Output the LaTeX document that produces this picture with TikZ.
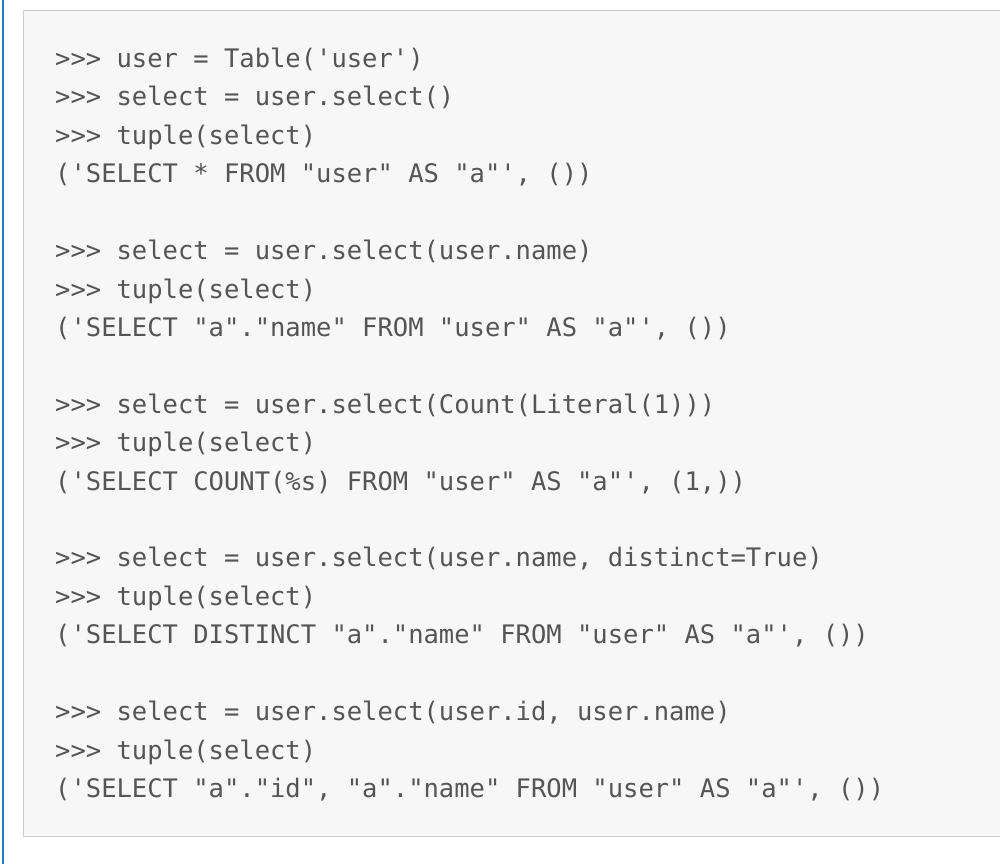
\documentclass[tikz,border=0pt]{standalone}
\usepackage{fontspec}
\setmonofont{DejaVu Sans Mono}
\definecolor{codegray}{HTML}{F7F7F7}
\definecolor{codeborder}{HTML}{CCCCCC}
\definecolor{codetext}{HTML}{555555}
\definecolor{sidebar}{HTML}{2B7BC0}
\begin{document}
\begin{tikzpicture}[x=1pt,y=-1pt,
  codeline/.style={anchor=base west,inner sep=0pt,text=codetext,font=\fontsize{25.5}{30}\ttfamily}]
\useasboundingbox (0,0) rectangle (1000,864);
\fill[white] (0,0) rectangle (1000,864);
\fill[sidebar] (1.5,0) rectangle (4,864);
\draw[codeborder,fill=codegray,line width=1.5] (23.5,10.5) rectangle (1010,836.5);
\foreach \i/\t in {0/{>>> user = Table('user')},
  1/{>>> select = user.select()},
  2/{>>> tuple(select)},
  3/{('SELECT * FROM "user" AS "a"', ())},
  5/{>>> select = user.select(user.name)},
  6/{>>> tuple(select)},
  7/{('SELECT "a"."name" FROM "user" AS "a"', ())},
  9/{>>> select = user.select(Count(Literal(1)))},
  10/{>>> tuple(select)},
  11/{('SELECT COUNT(\%s) FROM "user" AS "a"', (1,))},
  13/{>>> select = user.select(user.name, distinct=True)},
  14/{>>> tuple(select)},
  15/{('SELECT DISTINCT "a"."name" FROM "user" AS "a"', ())},
  17/{>>> select = user.select(user.id, user.name)},
  18/{>>> tuple(select)},
  19/{('SELECT "a"."id", "a"."name" FROM "user" AS "a"', ())}}
  \node[codeline] (l\i) at (55,{67.5+38.42*\i}) {\t};
\end{tikzpicture}
\end{document}
